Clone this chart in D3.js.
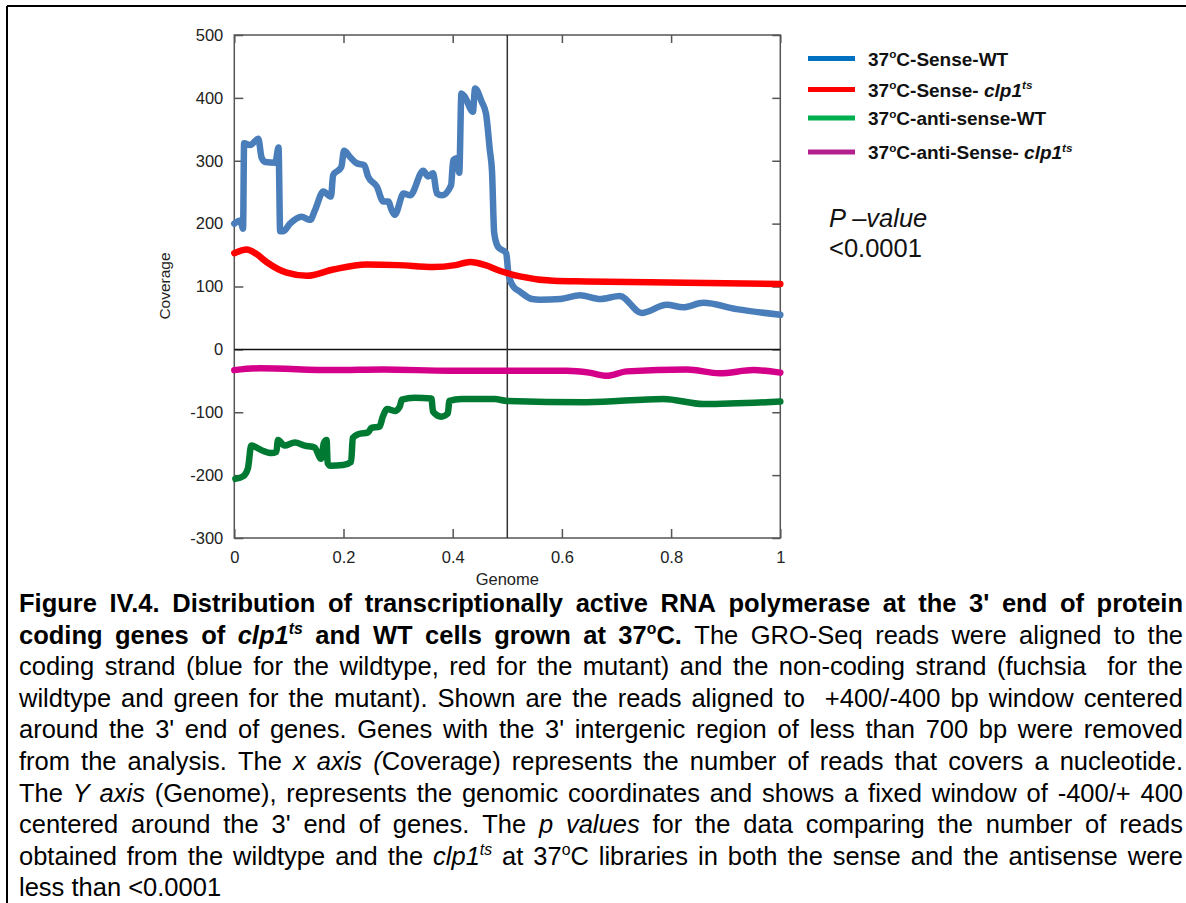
<!DOCTYPE html>
<html>
<head>
<meta charset="utf-8">
<script src="https://cdn.jsdelivr.net/npm/d3@7"></script>
<style>
  html, body { margin: 0; padding: 0; background: #fff; }
  svg { display: block; }
</style>
</head>
<body>
<svg id="fig" width="1186" height="903"></svg>
<script>
// ---- data: coverage profiles around the 3' end (genome position 0..1) ----
const senseWT = [
  [0,200],[0.011,205],[0.016,192],[0.018,328],[0.029,325],[0.044,335],[0.05,305],[0.057,298],
  [0.075,297],[0.081,321],[0.084,188],[0.09,188],[0.102,200],[0.123,211],[0.139,206],[0.148,222],
  [0.163,251],[0.177,243],[0.181,277],[0.196,290],[0.201,316],[0.212,306],[0.224,296],[0.238,293],
  [0.245,275],[0.261,259],[0.273,235],[0.282,235],[0.288,222],[0.294,214],[0.31,248],[0.322,245],
  [0.346,284],[0.355,275],[0.364,280],[0.371,248],[0.38,245],[0.397,261],[0.401,301],[0.407,304],
  [0.412,281],[0.416,407],[0.422,402],[0.437,378],[0.441,415],[0.453,394],[0.461,375],[0.468,317],
  [0.472,283],[0.476,185],[0.483,163],[0.498,153],[0.502,121],[0.511,100],[0.523,92],[0.545,80],
  [0.56,79],[0.597,80],[0.633,86],[0.67,80],[0.706,85],[0.746,58],[0.792,71],[0.822,67],
  [0.859,74],[0.92,64],[1,55]
];
const senseClp1 = [
  [0,153],[0.023,159],[0.04,152],[0.059,139],[0.096,122],[0.133,117],[0.181,127],[0.242,135],
  [0.3,134],[0.364,131],[0.405,134],[0.432,139],[0.46,134],[0.486,125],[0.523,116],[0.584,109],
  [0.645,108],[0.829,106],[1,104]
];
const antiWT = [
  [0.002,-206],[0.016,-202],[0.025,-189],[0.031,-153],[0.049,-160],[0.068,-165],[0.077,-163],
  [0.08,-144],[0.092,-153],[0.111,-148],[0.129,-153],[0.147,-156],[0.159,-174],[0.164,-149],
  [0.169,-144],[0.171,-181],[0.176,-185],[0.199,-184],[0.214,-179],[0.217,-141],[0.227,-135],
  [0.245,-132],[0.251,-125],[0.266,-123],[0.272,-107],[0.28,-95],[0.294,-98],[0.303,-91],
  [0.307,-80],[0.33,-77],[0.361,-78],[0.364,-99],[0.379,-107],[0.391,-102],[0.394,-82],
  [0.416,-79],[0.477,-79],[0.499,-82],[0.645,-84],[0.786,-79],[0.859,-87],[1,-83]
];
const antiClp1 = [
  [0,-33],[0.047,-30],[0.181,-33],[0.273,-32],[0.395,-34],[0.499,-34],[0.609,-34],[0.65,-37],
  [0.682,-42],[0.719,-35],[0.829,-32],[0.889,-38],[0.951,-33],[1,-37]
];

const xTicks = [0, 0.2, 0.4, 0.6, 0.8, 1];
const xTickLabels = ["0", "0.2", "0.4", "0.6", "0.8", "1"];
const yTicks = [-300, -200, -100, 0, 100, 200, 300, 400, 500];
const yTickLabels = ["-300", "-200", "-100", "0", "100", "200", "300", "400", "500"];

// legend entries: runs of [text, style] (b bold, i italic, s superscript)
const legendItems = [
  { color: "#0070c0", runs: [["37","b"],["o","bs"],["C-Sense-WT","b"]] },
  { color: "#ff0000", runs: [["37","b"],["o","bs"],["C-Sense- ","b"],["clp1","bi"],["ts","bis"]] },
  { color: "#00b050", runs: [["37","b"],["o","bs"],["C-anti-sense-WT","b"]] },
  { color: "#b3218f", runs: [["37","b"],["o","bs"],["C-anti-Sense- ","b"],["clp1","bi"],["ts","bis"]] }
];

const seriesList = [
  { data: senseWT,   color: "#4a7ebb" },
  { data: senseClp1, color: "#ff0000" },
  { data: antiWT,    color: "#007a33" },
  { data: antiClp1,  color: "#d4008a" }
];

// caption, one entry per printed line
const captionLines = [
  [["Figure IV.4. Distribution of transcriptionally active RNA polymerase at the 3' end of protein","b"]],
  [["coding genes of ","b"],["clp1","bi"],["ts","bis"],[" and WT cells grown at 37","b"],["o","bs"],["C.","b"],[" The GRO-Seq reads were aligned to the",""]],
  [["coding strand (blue for the wildtype, red for the mutant) and the non-coding strand (fuchsia  for the",""]],
  [["wildtype and green for the mutant). Shown are the reads aligned to  +400/-400 bp window centered",""]],
  [["around the 3' end of genes. Genes with the 3' intergenic region of less than 700 bp were removed",""]],
  [["from the analysis. The ",""],["x axis (","i"],["Coverage) represents the number of reads that covers a nucleotide.",""]],
  [["The ",""],["Y axis","i"],[" (Genome), represents the genomic coordinates and shows a fixed window of -400/+ 400",""]],
  [["centered around the 3' end of genes. The ",""],["p values","i"],[" for the data comparing the number of reads",""]],
  [["obtained from the wildtype and the ",""],["clp1","i"],["ts","is"],[" at 37",""],["o","s"],["C libraries in both the sense and the antisense were",""]],
  [["less than <0.0001",""]]
];

// ---- layout ----
const FONT = "'Liberation Sans', Arial, Helvetica, sans-serif";
const svg = d3.select("#fig").style("font-family", FONT);
const plot = { left: 234.3, right: 780.3, top: 35, bottom: 538 };

const x = d3.scaleLinear().domain([0, 1]).range([plot.left, plot.right]);
const y = d3.scaleLinear().domain([-300, 500]).range([plot.bottom, plot.top]);

// page frame (top and left rules)
svg.append("line").attr("x1", 7).attr("x2", 1186).attr("y1", 6).attr("y2", 6)
  .attr("stroke", "#000").attr("stroke-width", 2);
svg.append("line").attr("x1", 7).attr("x2", 7).attr("y1", 6).attr("y2", 903)
  .attr("stroke", "#000").attr("stroke-width", 2);

// axes with inward mirror ticks
const axisColor = "#555";
function styleAxis(g, showLabels) {
  g.select(".domain").remove();
  g.selectAll(".tick line").attr("stroke", axisColor).attr("stroke-width", 1.5);
  if (!showLabels) g.selectAll(".tick text").remove();
  else g.selectAll(".tick text").attr("fill", "#222").style("font-size", "16.5px").style("font-family", FONT);
}
svg.append("g").attr("transform", `translate(${plot.left},0)`)
  .call(d3.axisLeft(y).tickValues(yTicks).tickSize(-9).tickPadding(11)
    .tickFormat((d, i) => yTickLabels[i]))
  .call(g => styleAxis(g, true));
svg.append("g").attr("transform", `translate(${plot.right},0)`)
  .call(d3.axisRight(y).tickValues(yTicks).tickSize(-8))
  .call(g => styleAxis(g, false));
svg.append("g").attr("transform", `translate(0,${plot.bottom})`)
  .call(d3.axisBottom(x).tickValues(xTicks).tickSize(-9).tickPadding(13)
    .tickFormat((d, i) => xTickLabels[i]))
  .call(g => styleAxis(g, true));
svg.append("g").attr("transform", `translate(0,${plot.top})`)
  .call(d3.axisTop(x).tickValues(xTicks).tickSize(-8))
  .call(g => styleAxis(g, false));

// plot frame
svg.append("rect").attr("x", plot.left).attr("y", plot.top)
  .attr("width", plot.right - plot.left).attr("height", plot.bottom - plot.top)
  .attr("fill", "none").attr("stroke", axisColor).attr("stroke-width", 1.5);

// reference lines: zero coverage and the 3' end position
svg.append("line").attr("x1", x(0)).attr("x2", x(1)).attr("y1", y(0)).attr("y2", y(0))
  .attr("stroke", "#111").attr("stroke-width", 1.5);
svg.append("line").attr("x1", x(0.5)).attr("x2", x(0.5)).attr("y1", y(500)).attr("y2", y(-300))
  .attr("stroke", "#333").attr("stroke-width", 1.5);

// coverage curves
const line = d3.line().x(d => x(d[0])).y(d => y(d[1])).curve(d3.curveMonotoneX);
svg.append("g").selectAll("path").data(seriesList).join("path")
  .attr("d", s => line(s.data))
  .attr("fill", "none")
  .attr("stroke", s => s.color)
  .attr("stroke-width", 6.5)
  .attr("stroke-linejoin", "round")
  .attr("stroke-linecap", "round");

// axis titles
svg.append("text").attr("x", x(0.5)).attr("y", 585).attr("text-anchor", "middle")
  .attr("fill", "#222").style("font-size", "16.5px").text("Genome");
svg.append("text").attr("transform", "translate(170,286) rotate(-90)").attr("text-anchor", "middle")
  .attr("fill", "#222").style("font-size", "15.5px").text("Coverage");

// write styled runs into a text element
function addRuns(textSel, runs, fs) {
  let shifted = false;
  runs.forEach(([t, st]) => {
    const sup = st.includes("s");
    const ts = textSel.append("tspan").text(t)
      .style("font-weight", st.includes("b") ? "bold" : "normal")
      .style("font-style", st.includes("i") ? "italic" : "normal")
      .style("font-size", (sup ? fs * 0.62 : fs) + "px");
    if (sup && !shifted) { ts.attr("dy", -fs * 0.38); shifted = true; }
    else if (!sup && shifted) { ts.attr("dy", fs * 0.38); shifted = false; }
  });
}

// legend
const legendRows = [58.5, 89.5, 118, 152];
legendItems.forEach((item, i) => {
  const cy = legendRows[i];
  svg.append("line").attr("x1", 808).attr("x2", 855).attr("y1", cy).attr("y2", cy)
    .attr("stroke", item.color).attr("stroke-width", 5);
  const t = svg.append("text").attr("x", 868).attr("y", cy + 7)
    .attr("fill", "#111").style("font-size", "19px").attr("xml:space", "preserve");
  addRuns(t, item.runs, 19);
});

// p-value note
svg.append("text").attr("x", 829).attr("y", 227).attr("fill", "#111")
  .style("font-size", "25.5px").style("font-style", "italic").text("P –value");
svg.append("text").attr("x", 829).attr("y", 257).attr("fill", "#111")
  .style("font-size", "25.5px").text("<0.0001");

// justified caption
const capFs = 25.5, capLeft = 19, capRight = 1183, capTop = 612, capStep = 31.6;
captionLines.forEach((runs, li) => {
  // split runs into words (each word may hold several styled pieces)
  const words = [[]];
  runs.forEach(([t, st]) => {
    const parts = t.split(" ");
    parts.forEach((p, pi) => {
      if (pi > 0) words.push([]);
      if (p.length) words[words.length - 1].push([p, st]);
    });
  });
  const baseY = capTop + li * capStep;
  const g = svg.append("g");
  const nodes = words.map(w => {
    const t = g.append("text").attr("y", baseY).attr("fill", "#000").style("font-size", capFs + "px");
    addRuns(t, w, capFs);
    return { sel: t, w: w.length ? t.node().getComputedTextLength() : 0 };
  });
  const last = li === captionLines.length - 1;
  const total = d3.sum(nodes, n => n.w);
  const gaps = nodes.length - 1;
  const gap = last ? capFs * 0.278 : (capRight - capLeft - total) / gaps;
  let cx = capLeft;
  nodes.forEach(n => { n.sel.attr("x", cx); cx += n.w + gap; });
});
</script>
</body>
</html>
